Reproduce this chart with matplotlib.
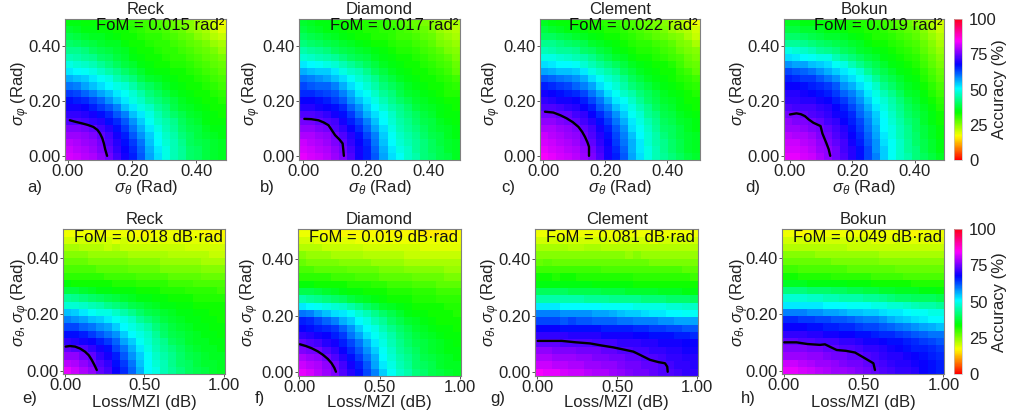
import numpy as np
import matplotlib
matplotlib.use("Agg")
import matplotlib.pyplot as plt
from matplotlib.cm import ScalarMappable
from matplotlib.colors import Normalize

plt.rcParams['font.family'] = ['Liberation Sans', 'DejaVu Sans']
plt.rcParams['mathtext.fontset'] = 'custom'
plt.rcParams['mathtext.rm'] = 'Liberation Sans'
plt.rcParams['mathtext.it'] = 'Liberation Sans:italic'
plt.rcParams['mathtext.bf'] = 'Liberation Sans:bold'

# Accuracy (%); rows listed from the top of each panel down
acc_a = [
[35,35,34,34,33,33,32,31,31,30,30,29,28,27,26,25,23,22,20,18],
[37,36,35,35,34,34,33,33,32,31,30,30,29,28,27,25,24,23,21,19],
[39,38,37,36,36,35,34,33,33,32,31,31,30,29,28,27,25,24,22,21],
[41,40,39,38,37,36,36,34,33,33,32,31,31,30,29,28,27,26,24,23],
[43,43,42,40,39,38,37,36,34,33,33,32,31,31,30,29,28,27,26,24],
[46,45,44,43,41,40,38,37,35,34,33,33,32,31,31,30,29,28,27,26],
[49,48,47,46,44,42,40,38,37,35,34,33,33,32,32,31,30,29,28,27],
[52,51,50,49,47,45,43,41,39,37,35,34,34,33,33,32,31,30,29,28],
[56,55,54,52,50,49,46,44,42,39,37,36,35,34,33,33,32,31,30,29],
[60,59,57,55,53,51,49,48,45,42,40,38,36,35,34,33,33,32,31,30],
[64,63,61,59,57,55,52,50,48,45,42,40,38,36,35,34,33,33,32,31],
[67,66,65,63,61,58,55,52,49,47,44,42,40,38,36,35,34,33,33,32],
[69,69,68,66,64,62,59,55,52,49,47,44,42,39,37,36,35,34,33,33],
[71,71,70,69,67,65,62,59,55,52,49,46,43,41,39,37,36,35,34,33],
[73,73,72,71,70,67,65,62,58,54,50,47,45,43,40,38,37,35,34,34],
[76,76,75,74,72,70,67,64,60,56,52,49,46,44,41,39,38,36,35,35],
[78,78,77,76,74,72,69,66,62,58,54,50,47,45,42,40,38,37,36,35],
[80,79,78,77,75,73,70,67,64,60,55,51,48,46,43,40,39,38,37,36],
[81,80,79,78,76,74,71,68,65,61,56,52,49,46,44,41,40,38,37,36],
[82,81,80,79,77,75,72,69,66,62,57,53,49,46,44,41,40,38,37,36],
]
acc_b = [
[37,36,35,35,34,33,33,32,32,31,31,30,29,28,27,26,25,24,23,23],
[38,37,36,35,35,34,33,33,32,32,31,31,30,29,28,27,26,24,23,22],
[40,39,38,37,36,35,34,33,33,32,32,31,30,30,29,28,27,25,24,23],
[42,41,40,39,38,37,36,35,34,33,33,32,31,31,30,29,28,26,25,24],
[45,44,43,42,40,39,38,37,36,35,34,33,32,32,31,30,29,28,26,25],
[48,47,46,45,44,42,40,39,38,36,35,34,33,33,32,31,30,29,28,26],
[52,51,50,49,48,46,44,42,40,38,36,35,34,33,33,32,31,30,29,27],
[56,55,54,54,52,49,47,46,43,40,38,36,35,34,33,33,32,31,30,28],
[60,59,58,57,55,53,50,48,46,43,40,38,36,35,34,33,33,32,31,30],
[63,62,61,61,59,56,53,50,48,45,42,40,38,36,35,34,33,33,32,31],
[65,65,64,63,62,59,56,52,50,47,44,42,39,37,36,35,34,33,32,32],
[68,68,67,66,64,62,58,55,52,49,46,43,41,39,37,36,35,34,33,33],
[70,70,69,68,67,65,61,58,54,51,48,45,43,41,38,37,36,35,34,33],
[73,73,72,71,69,67,64,60,56,53,50,47,44,42,40,38,37,35,34,34],
[75,75,74,73,72,69,66,63,59,55,51,48,45,43,41,39,38,36,35,34],
[77,77,76,75,73,71,68,65,61,57,53,49,46,44,42,40,38,37,36,35],
[79,79,78,77,75,73,70,67,63,59,54,50,47,45,43,41,39,38,36,35],
[81,80,79,78,76,74,71,68,65,60,55,51,48,46,44,42,40,38,37,36],
[82,81,80,79,77,75,72,69,66,61,56,52,49,47,44,42,40,39,37,36],
[83,82,81,80,78,76,73,69,66,62,57,53,50,47,45,42,41,39,38,36],
]
acc_c = [
[36,35,34,34,33,33,32,32,31,31,30,29,28,27,26,25,23,22,20,18],
[38,37,36,35,35,34,33,33,32,32,31,30,29,28,27,26,24,23,22,20],
[40,40,39,38,37,36,35,34,33,33,32,31,30,29,28,27,26,25,23,21],
[43,43,42,41,40,39,37,36,35,34,33,32,31,31,30,29,28,26,25,23],
[46,45,44,44,43,41,40,38,37,35,34,33,32,32,31,30,29,27,26,25],
[49,49,48,47,46,45,43,41,39,37,36,34,33,33,32,31,30,29,27,26],
[53,52,51,51,50,48,46,44,42,40,38,36,35,34,33,33,32,30,28,27],
[57,56,55,55,54,52,49,47,45,43,40,38,36,35,34,33,33,31,30,28],
[62,61,60,59,58,56,53,50,48,46,43,40,38,36,35,34,33,32,31,30],
[66,65,64,63,61,59,57,53,50,48,45,42,40,38,36,35,34,33,32,31],
[69,68,67,66,65,63,60,57,53,50,47,45,42,40,38,36,35,34,33,32],
[71,70,69,69,68,66,63,60,56,52,50,47,44,41,39,37,36,35,33,33],
[73,73,72,71,70,68,66,62,59,55,52,49,46,43,40,38,37,35,34,33],
[75,75,74,74,72,71,68,65,62,58,54,50,48,44,42,39,38,36,35,34],
[77,77,76,75,74,72,70,67,64,60,56,52,49,46,43,40,39,37,36,35],
[79,79,78,77,76,74,72,69,66,62,58,53,50,47,44,41,40,38,36,35],
[81,80,79,78,77,75,73,70,67,63,59,55,51,48,45,42,40,38,37,36],
[82,81,80,79,78,76,74,71,68,64,60,56,52,48,45,43,41,39,37,36],
[83,82,81,80,79,77,75,72,69,65,61,56,52,49,46,43,41,39,37,36],
[84,83,82,81,80,78,76,73,69,66,62,57,53,49,46,44,42,40,38,37],
]
acc_d = [
[36,36,35,35,34,34,34,33,33,32,32,31,30,29,28,27,25,24,22,20],
[38,38,37,37,36,35,35,34,33,33,32,32,31,30,29,28,27,25,23,21],
[41,41,40,39,38,37,37,36,35,34,33,32,32,31,30,29,28,26,24,22],
[44,44,43,42,41,40,39,38,37,36,34,33,33,32,31,30,29,27,25,23],
[49,48,47,46,44,43,42,40,39,37,36,35,34,33,32,31,30,28,26,24],
[53,52,51,50,49,49,46,44,42,40,38,37,35,34,33,32,31,29,27,25],
[58,57,57,55,54,53,50,49,46,43,41,39,37,35,34,33,32,30,28,26],
[63,62,61,60,58,56,54,52,50,48,44,41,39,37,35,34,33,31,29,27],
[66,65,64,64,62,60,58,55,53,50,48,44,41,39,37,35,34,32,30,28],
[68,68,67,66,65,64,62,58,56,53,50,47,43,41,38,36,35,33,31,29],
[70,70,69,68,67,66,64,61,59,56,52,49,46,43,40,37,36,34,32,30],
[71,71,70,70,69,68,66,64,61,58,54,50,48,45,42,39,37,35,33,31],
[73,72,72,72,71,70,68,66,63,60,56,52,49,46,43,40,38,36,34,32],
[75,75,74,73,72,71,69,67,65,61,58,54,50,47,44,41,39,37,35,33],
[77,76,76,75,74,72,71,68,66,63,59,55,51,48,45,42,40,37,35,33],
[78,78,77,76,75,74,72,70,67,64,60,56,51,49,46,43,40,38,36,34],
[80,79,79,78,76,75,73,71,68,65,61,57,52,49,46,43,41,38,36,34],
[81,81,80,79,77,76,74,72,69,66,62,58,53,50,47,44,41,39,37,35],
[82,82,81,80,78,77,75,72,70,67,63,58,54,50,47,44,42,39,37,35],
[83,83,82,81,79,77,75,73,70,67,63,59,54,50,47,45,42,40,38,36],
]
acc_e = [
[18,18,18,18,18,18,18,18,18,17,17,18,18,18,18,18,18,17,17,17],
[20,20,20,20,20,20,19,20,19,19,19,19,19,19,19,19,19,19,18,18],
[23,23,22,22,22,21,22,21,21,21,21,21,21,21,21,20,20,20,20,20],
[25,25,25,24,24,24,24,24,23,23,23,23,23,22,22,22,22,22,21,21],
[27,27,27,26,26,26,26,26,25,25,25,25,24,24,24,24,24,23,23,23],
[29,29,29,29,28,28,28,28,27,27,27,27,26,26,26,26,26,25,25,25],
[31,31,31,31,31,30,30,30,30,29,29,29,29,28,28,28,28,27,27,27],
[34,33,33,33,33,33,32,32,32,31,31,31,31,30,30,30,29,29,29,29],
[38,38,37,36,35,35,34,34,34,33,33,33,32,32,32,31,31,31,31,30],
[44,43,42,41,40,39,38,37,36,35,35,34,34,33,33,33,32,32,32,32],
[48,48,47,46,45,43,42,41,39,38,37,36,35,35,34,34,33,33,33,33],
[55,54,52,50,49,49,47,45,43,41,39,38,37,36,35,35,34,34,33,33],
[59,58,57,55,54,52,50,49,47,44,42,40,38,37,36,35,35,34,34,33],
[63,63,61,60,58,57,54,51,49,47,45,42,40,38,37,36,35,35,34,34],
[67,67,66,64,62,60,58,54,51,49,47,44,41,39,38,37,36,35,35,34],
[71,70,69,68,66,64,61,57,54,50,48,45,43,40,39,37,36,36,35,35],
[74,73,73,71,69,67,63,60,56,52,49,46,44,42,40,38,37,36,36,35],
[77,77,75,74,71,69,66,62,58,54,50,47,45,43,41,39,38,37,36,36],
[80,79,77,75,73,71,67,64,60,55,51,48,46,43,41,40,38,37,37,36],
[83,81,79,77,74,72,68,65,61,56,51,49,46,44,42,40,39,38,37,36],
]
acc_f = [
[18,18,18,17,17,17,17,17,17,17,17,17,17,17,17,16,16,16,16,17],
[20,20,19,19,19,19,19,18,18,18,18,18,18,18,18,18,18,18,18,18],
[22,22,22,21,21,21,21,21,20,20,20,20,20,20,20,19,19,19,19,19],
[25,24,24,24,23,23,23,23,22,22,22,22,22,21,21,21,21,21,21,21],
[27,26,26,26,26,25,25,25,25,24,24,24,24,23,23,23,23,23,23,23],
[29,29,28,28,28,28,27,27,27,27,26,26,26,25,25,25,25,25,24,24],
[31,31,31,31,30,30,30,29,29,29,28,28,28,28,27,27,27,27,26,26],
[34,34,33,33,33,33,32,32,32,31,31,30,30,30,29,29,29,28,28,28],
[39,39,38,37,36,35,34,34,33,33,33,32,32,32,31,31,31,30,30,30],
[45,44,43,42,41,40,38,37,36,35,34,33,33,33,32,32,32,31,31,31],
[52,51,50,49,48,47,45,43,41,39,37,36,35,34,33,33,33,33,32,32],
[60,59,57,55,53,52,50,48,46,43,41,39,37,35,34,34,33,33,33,32],
[66,65,63,61,59,56,54,51,49,46,44,41,39,37,36,35,34,33,33,33],
[68,67,66,65,64,61,58,54,51,49,46,43,41,39,37,36,35,34,34,33],
[71,70,69,68,66,64,60,57,53,50,48,45,42,40,38,37,36,35,34,34],
[74,73,72,70,69,66,63,60,56,52,49,46,43,41,39,38,37,36,35,34],
[76,75,75,73,71,68,65,62,58,54,50,47,44,42,40,38,37,36,35,35],
[79,78,77,75,73,70,67,64,60,56,51,48,45,43,41,39,38,37,36,35],
[81,80,79,77,75,72,69,66,62,57,52,49,46,44,41,40,39,37,36,36],
[83,82,80,78,76,73,70,67,63,59,54,50,47,45,42,41,39,38,37,36],
]
acc_g = [
[18,18,18,18,17,18,18,18,18,18,18,18,18,18,18,18,18,18,18,18],
[20,20,20,20,20,20,20,20,20,19,20,20,20,20,19,20,20,20,20,20],
[23,23,23,23,22,22,23,23,22,22,22,22,22,22,22,22,22,22,22,22],
[25,25,25,25,25,25,25,25,25,25,25,24,25,24,24,24,24,24,24,24],
[27,28,27,27,27,27,27,27,27,27,27,27,27,27,26,26,26,26,26,26],
[30,30,30,30,30,30,30,30,29,29,29,29,29,29,29,29,29,29,28,28],
[33,33,32,33,33,32,32,32,32,32,32,32,31,31,31,31,31,31,31,30],
[35,35,35,35,35,35,35,34,34,34,34,34,33,33,33,33,33,33,33,33],
[40,40,40,40,39,39,39,39,38,38,38,37,37,37,37,36,36,36,35,35],
[45,45,45,45,45,45,44,44,44,43,43,43,43,42,42,42,41,41,41,40],
[52,52,52,51,51,51,51,51,50,50,50,50,49,49,49,49,48,48,47,47],
[59,59,59,58,58,58,58,57,57,56,55,54,54,53,52,52,51,51,50,50],
[63,63,63,62,63,62,62,61,61,61,60,60,59,59,59,58,58,57,57,57],
[68,68,68,67,67,67,67,67,66,66,66,66,65,65,64,64,63,63,62,62],
[71,71,71,71,70,70,70,70,69,69,69,69,68,68,67,67,67,66,66,65],
[74,74,74,73,73,73,73,72,72,72,71,71,71,70,70,69,69,69,68,68],
[77,77,76,76,76,75,75,75,74,74,73,73,72,72,71,71,70,70,69,69],
[79,79,78,78,78,77,77,76,76,75,75,74,74,73,73,72,71,71,70,70],
[81,81,80,80,79,79,78,78,77,77,76,75,75,74,74,73,72,71,71,70],
[84,83,83,82,81,81,80,79,79,78,77,76,75,75,74,73,73,72,71,71],
]
acc_h = [
[18,18,17,18,18,18,18,18,18,18,18,18,18,18,18,18,17,18,18,18],
[20,20,20,20,20,20,20,20,20,20,20,19,19,19,20,19,19,19,19,19],
[22,22,22,22,22,22,22,22,21,21,21,21,21,21,21,21,21,21,21,21],
[25,25,25,25,24,24,24,24,24,24,24,24,23,23,23,23,23,23,23,23],
[27,27,27,27,27,27,26,26,26,26,26,26,25,25,25,25,25,25,25,25],
[30,30,29,29,29,29,29,29,28,28,28,28,28,28,27,27,27,27,27,27],
[33,33,32,32,32,32,31,31,31,31,31,30,30,30,30,29,29,29,29,29],
[36,36,36,35,35,35,35,35,34,34,34,33,33,33,33,33,32,32,32,32],
[42,42,42,41,41,41,40,40,39,39,38,38,37,37,36,36,36,35,35,34],
[48,48,48,47,47,46,46,45,45,45,44,44,43,42,41,41,40,40,40,39],
[52,52,52,52,52,51,51,51,50,50,50,49,49,48,48,47,46,45,45,44],
[59,59,59,58,58,57,57,56,55,55,54,54,53,52,52,51,50,50,49,49],
[65,65,64,64,63,63,62,62,61,60,59,59,58,56,55,54,53,52,51,51],
[68,68,68,67,67,66,66,65,65,64,63,63,62,61,60,59,58,57,56,55],
[71,71,71,70,70,69,69,68,68,67,67,66,65,65,64,63,62,61,60,60],
[74,74,73,73,72,72,72,71,71,70,69,69,68,67,67,66,65,64,63,62],
[76,76,76,75,75,74,74,73,73,72,71,71,70,69,68,67,66,66,65,64],
[78,78,78,77,77,76,75,75,74,74,73,72,71,70,70,69,68,67,66,65],
[81,81,80,79,78,78,77,76,75,75,74,73,72,71,70,70,69,68,67,66],
[83,83,82,81,80,79,78,78,77,76,75,74,73,72,71,71,70,68,67,66],
]

# Black threshold curves
curve_a_x = [.006,.025,.043,.062,.079,.092,.100,.107,.112,.116,.122]
curve_a_y = [.130,.124,.119,.113,.106,.095,.082,.065,.046,.025,.001]
curve_b_x = [.003,.025,.048,.065,.080,.090,.101,.115,.125,.127,.129]
curve_b_y = [.135,.134,.130,.122,.112,.095,.076,.060,.046,.025,.001]
curve_c_x = [.005,.032,.055,.075,.095,.113,.125,.134,.142,.147,.147]
curve_c_y = [.161,.158,.148,.137,.123,.106,.088,.070,.050,.034,.001]
curve_d_x = [.000,.021,.035,.048,.060,.075,.098,.104,.117,.124,.129]
curve_d_y = [.151,.155,.152,.145,.133,.121,.109,.082,.046,.025,.001]
curve_e_x = [.004,.030,.063,.095,.126,.150,.168,.185,.200]
curve_e_y = [.085,.087,.085,.078,.067,.054,.038,.020,.002]
curve_f_x = [.004,.040,.077,.115,.149,.178,.201,.218,.228]
curve_f_y = [.099,.093,.085,.074,.061,.047,.032,.016,.002]
curve_g_x = [.002,.153,.240,.331,.400,.477,.545,.603,.650,.707,.760,.801,.815,.818]
curve_g_y = [.111,.111,.106,.102,.095,.088,.080,.073,.060,.044,.036,.032,.020,.002]
curve_h_x = [.004,.081,.150,.228,.259,.295,.332,.390,.447,.505,.562,.572]
curve_h_y = [.100,.100,.094,.091,.093,.083,.073,.070,.064,.045,.026,.002]

titles = ['Reck', 'Diamond', 'Clement', 'Bokun', 'Reck', 'Diamond', 'Clement', 'Bokun']
foms = ['FoM = 0.015 rad²', 'FoM = 0.017 rad²', 'FoM = 0.022 rad²', 'FoM = 0.019 rad²',
        'FoM = 0.018 dB·rad', 'FoM = 0.019 dB·rad', 'FoM = 0.081 dB·rad', 'FoM = 0.049 dB·rad']
tags = ['a)', 'b)', 'c)', 'd)', 'e)', 'f)', 'g)', 'h)']
grids = [acc_a, acc_b, acc_c, acc_d, acc_e, acc_f, acc_g, acc_h]
curves = [(curve_a_x, curve_a_y), (curve_b_x, curve_b_y), (curve_c_x, curve_c_y), (curve_d_x, curve_d_y),
          (curve_e_x, curve_e_y), (curve_f_x, curve_f_y), (curve_g_x, curve_g_y), (curve_h_x, curve_h_y)]
top_xticks = [0, 0.2, 0.4]
bot_xticks = [0, 0.5, 1.0]
yticks = [0, 0.2, 0.4]
cbar_ticks = [0, 25, 50, 75, 100]

W, H = 1012, 416
# layout in pixels: left, right, top, bottom
boxes = [(65, 226, 19, 160), (299.3, 459.7, 19, 160), (540, 699.7, 19, 160), (784.3, 944.3, 19, 160),
         (63.3, 225, 229.3, 374), (298, 460.7, 229.3, 376), (535.3, 698.3, 229.3, 376), (782.3, 943.7, 229.3, 374)]
xlims = [(-.009, .492), (-.013, .498), (-.011, .504), (-.018, .494),
         (-.011, 1.008), (-.008, 1.004), (-.013, 1.010), (-.008, 1.002)]
ylims = [(-.014, .497)] * 4 + [(-.012, .500), (-.013, .505), (-.013, .505), (-.012, .500)]
fom_x = [224, 458, 698, 943, 223, 458, 695, 942]
tag_x = [27, 260, 501, 745, 22, 255, 490, 741]
ylab_x = [21, 252, 492, 740, 21, 250, 491, 740]
cbar_boxes = [(954, 962, 19, 160), (954, 962, 229.3, 374)]
cbar_lab_x = 1000
FS = 12

fig = plt.figure(figsize=(W / 100, H / 100), dpi=100)
fx = lambda p: p / W
fy = lambda p: 1 - p / H
cmap = plt.get_cmap('hsv')
norm = Normalize(0, 100)

for i in range(8):
    l, r, t, b = boxes[i]
    ax = fig.add_axes([fx(l), fy(b), (r - l) / W, (b - t) / H])
    xe = np.linspace(*xlims[i], 21)
    ye = np.linspace(*ylims[i], 21)
    ax.pcolormesh(xe, ye, np.array(grids[i])[::-1], cmap=cmap, norm=norm, rasterized=True)
    ax.plot(curves[i][0], curves[i][1], color='black', lw=1.7, solid_capstyle='round')
    ax.set_xlim(*xlims[i])
    ax.set_ylim(*ylims[i])
    top = i < 4
    ax.set_xticks(top_xticks if top else bot_xticks)
    ax.set_yticks(yticks)
    ax.xaxis.set_major_formatter('{x:.2f}')
    ax.yaxis.set_major_formatter('{x:.2f}')
    ax.tick_params(labelsize=FS, length=2, width=0.7, color='#555555', pad=1.2, labelcolor='#222222')
    for s in ax.spines.values():
        s.set_color('#808080')
        s.set_linewidth(0.8)
    ax.set_xlabel(r'$\sigma_\theta$ (Rad)' if top else 'Loss/MZI (dB)', fontsize=FS, color='#222222', va='center')
    ax.xaxis.set_label_coords(fx((l + r) / 2), fy(188 if top else 402), transform=fig.transFigure)
    ax.set_ylabel(r'$\sigma_\varphi$ (Rad)' if top else r'$\sigma_\theta, \sigma_\varphi$ (Rad)',
                  fontsize=FS, color='#222222', va='center')
    ax.yaxis.set_label_coords(fx(ylab_x[i]), fy(93 if top else 302), transform=fig.transFigure)
    fig.text(fx((l + r) / 2), fy(9 if top else 220), titles[i], ha='center', va='center', fontsize=FS, color='#222222')
    fig.text(fx(fom_x[i]), fy(26 if top else 237), foms[i], ha='right', va='center', fontsize=FS, color='#111111')
    fig.text(fx(tag_x[i]), fy(188 if top else 399), tags[i], ha='left', va='center', fontsize=FS, color='#222222')

for k, (l, r, t, b) in enumerate(cbar_boxes):
    cax = fig.add_axes([fx(l), fy(b), (r - l) / W, (b - t) / H])
    cb = fig.colorbar(ScalarMappable(norm=norm, cmap=cmap), cax=cax, ticks=cbar_ticks)
    cb.outline.set_edgecolor('#c0c0c0')
    cb.outline.set_linewidth(0.5)
    cax.tick_params(labelsize=FS, length=0, pad=5, labelcolor='#222222')
    cb.set_label('Accuracy (%)', fontsize=FS, color='#222222', va='center')
    cax.yaxis.set_label_coords(fx(cbar_lab_x), fy((t + b) / 2), transform=fig.transFigure)

fig.savefig('out.png', dpi=100)
